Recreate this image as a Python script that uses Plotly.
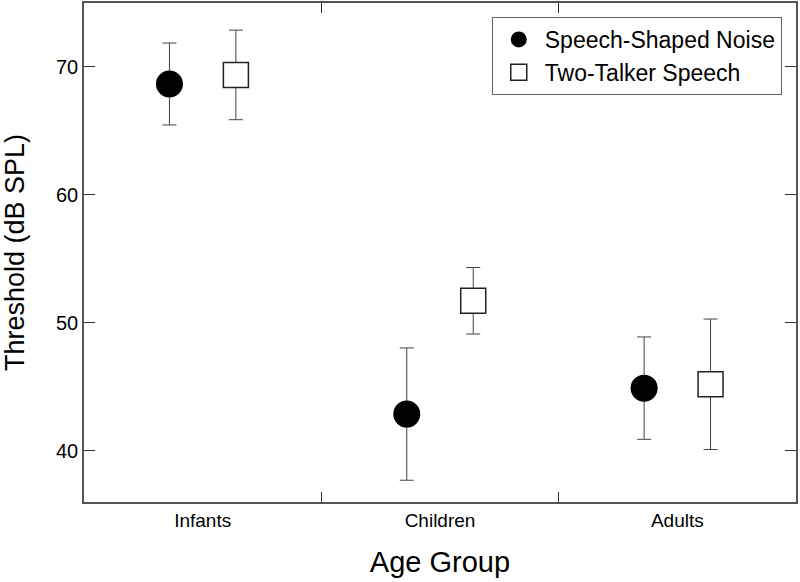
import plotly.graph_objects as go

categories = ["Infants", "Children", "Adults"]
ssn_mean = [68.67, 42.87, 44.9]
ssn_err = [3.2, 5.17, 4.0]
tts_mean = [69.38, 51.73, 45.2]
tts_err = [3.5, 2.6, 5.1]
group_pos = [0, 1, 2]
group_bounds = [0.5, 1.5]
offset = 0.14

FONT = "Liberation Sans, Arial, sans-serif"
AX = "#555555"

fig = go.Figure()
fig.add_trace(go.Scatter(
    x=[p - offset for p in group_pos], y=ssn_mean, mode="markers",
    name="Speech-Shaped Noise",
    marker=dict(symbol="circle", size=27, color="black", line=dict(width=0)),
    error_y=dict(type="data", array=ssn_err, visible=True, color="#444444", thickness=1, width=7),
))
fig.add_trace(go.Scatter(
    x=[p + offset for p in group_pos], y=tts_mean, mode="markers",
    name="Two-Talker Speech",
    marker=dict(symbol="square", size=25, color="white", line=dict(width=1.5, color="#222222")),
    error_y=dict(type="data", array=tts_err, visible=True, color="#444444", thickness=1, width=7),
))

fig.update_layout(
    width=800, height=582,
    margin=dict(l=84, r=4, t=3, b=80, autoexpand=False),
    paper_bgcolor="white", plot_bgcolor="white",
    font=dict(family=FONT, color="black"),
    showlegend=True,
    legend=dict(
        x=0.980, xanchor="right", y=0.972, yanchor="top",
        bordercolor="#666666", borderwidth=1, bgcolor="white",
        font=dict(size=23, family=FONT),
        tracegroupgap=0, itemwidth=42,
    ),
    xaxis=dict(
        range=[-0.5, 2.5], tickvals=group_pos, ticktext=categories,
        ticks="", showgrid=False, zeroline=False, automargin=False,
        showline=True, linecolor=AX, linewidth=1.5, mirror="ticks",
        minor=dict(tickvals=group_bounds, ticks="inside", ticklen=10,
                   tickcolor="#333333", tickwidth=1.2, showgrid=False),
        tickfont=dict(size=19),
        title=dict(text="Age Group", font=dict(size=29), standoff=22),
    ),
    yaxis=dict(
        range=[36, 75], tickvals=[40, 50, 60, 70], automargin=False,
        ticks="inside", ticklen=11, tickcolor="#333333", tickwidth=1.2,
        showgrid=False, zeroline=False,
        showline=True, linecolor=AX, linewidth=1.5, mirror="ticks",
        tickfont=dict(size=20),
        title=dict(text="Threshold (dB SPL)", font=dict(size=27), standoff=28),
    ),
)

fig.write_html("out.html", config={"displayModeBar": False},
               post_script="document.body.style.margin='0';")
